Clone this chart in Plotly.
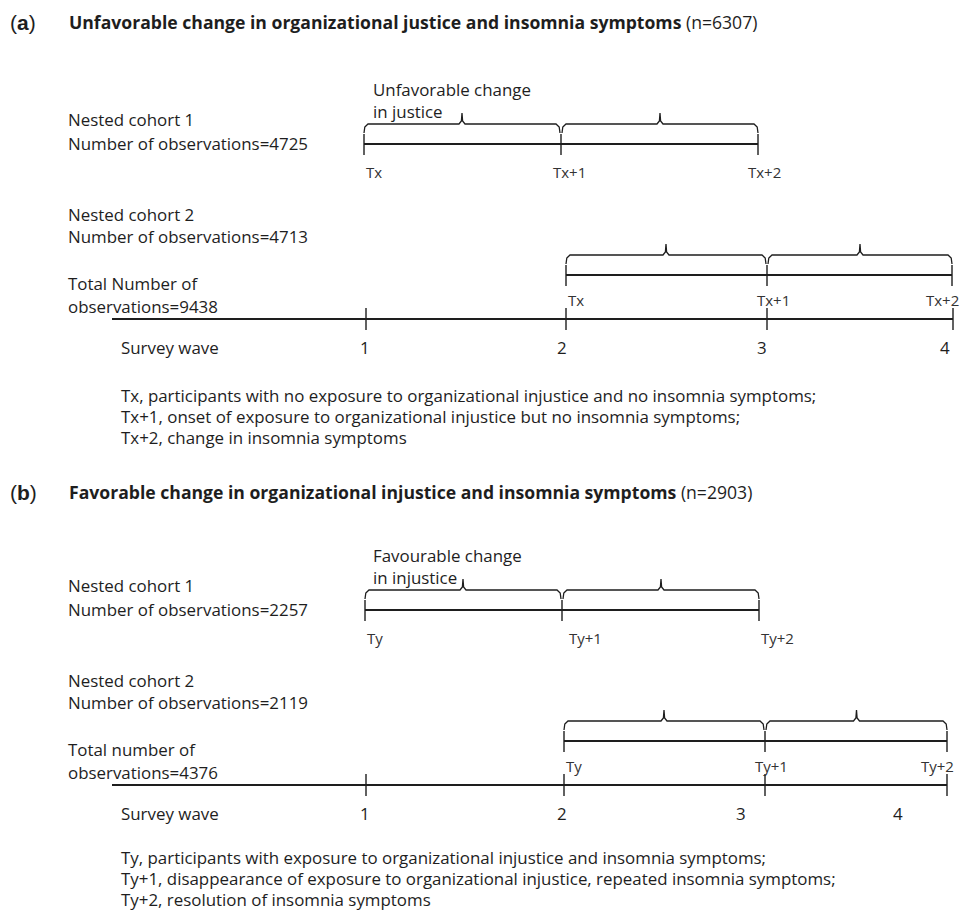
import plotly.graph_objects as go

# ---------------- data ----------------
panel_letters = ["a", "b"]
panel_titles = [
    "Unfavorable change in organizational justice and insomnia symptoms",
    "Favorable change in organizational injustice and insomnia symptoms",
]
panel_n = [6307, 2903]
cohort1_obs = [4725, 2257]
cohort2_obs = [4713, 2119]
total_obs = [9438, 4376]
total_label = ["Total Number of", "Total number of"]
waves = ["1", "2", "3", "4"]
cohort_start_wave = [1, 2]          # nested cohort 1 starts at wave 1, cohort 2 at wave 2
time_labels = [["Tx", "Tx+1", "Tx+2"], ["Ty", "Ty+1", "Ty+2"]]
change_labels = [["Unfavorable change", "in justice"], ["Favourable change", "in injustice"]]
footnotes = [
    ["Tx, participants with no exposure to organizational injustice and no insomnia symptoms;",
     "Tx+1, onset of exposure to organizational injustice but no insomnia symptoms;",
     "Tx+2, change in insomnia symptoms"],
    ["Ty, participants with exposure to organizational injustice and insomnia symptoms;",
     "Ty+1, disappearance of exposure to organizational injustice, repeated insomnia symptoms;",
     "Ty+2, resolution of insomnia symptoms"],
]

# ---------------- layout constants (pixel geometry of the schematic) ----------------
W, H = 963, 914
FONT = "Open Sans"
INK = "#1e1e1e"
FS = 16.9
wave_x = [[366, 566, 767, 953], [366, 564, 765, 947]]          # tick positions on survey-wave line
cohort_x = [[[364, 561, 758], [566, 767, 952]],
            [[365, 562, 759], [564, 765, 947]]]
wave_label_x = [[365, 562, 762, 945], [365, 562, 741, 898]]
panel_dy = [0, 466]
foot_y = [[395, 416, 437], [857, 878, 899]]
LEFT = 66

fig = go.Figure()
ann = []


def line(xs, ys, w=1.8):
    fig.add_trace(go.Scatter(x=xs, y=ys, mode="lines", line=dict(color=INK, width=w),
                             hoverinfo="skip", showlegend=False))


def text(x, y, s, size=FS, xanchor="left", color=INK, family=FONT):
    ann.append(dict(x=x, y=y, xref="x", yref="y", text=s, showarrow=False,
                    xanchor=xanchor, yanchor="middle",
                    font=dict(family=family, size=size, color=color)))


def brace(x0, x1, y):
    xm = (x0 + x1) / 2
    xs = [x0, x0 + 0.8, x0 + 4, xm - 3, xm - 0.6, xm, xm + 0.6, xm + 3, x1 - 4, x1 - 0.8, x1]
    ys = [y + 9, y + 3, y, y, y - 3, y - 11, y - 3, y, y, y + 3, y + 9]
    line(xs, ys, 1.3)


def cohort(xs, y, labels, label_y, anchors):
    line([xs[0], xs[-1]], [y, y], 1.9)
    for xt in xs:
        line([xt, xt], [y - 10, y + 11], 1.4)
    for i in range(len(xs) - 1):
        brace(xs[i] + (1 if i else 0), xs[i + 1] - (1 if i < len(xs) - 2 else 0), y - 20)
    for xt, lab, (dx, xa) in zip(xs, labels, anchors):
        text(xt + dx, label_y, lab, size=15, xanchor=xa, color="#333333")


for p in range(2):
    dy = panel_dy[p]
    ty = 22 + dy + 4 * p
    # title
    text(8, ty, "(<b>%s</b>)" % panel_letters[p], size=21, family="Liberation Sans")
    text(LEFT + 1, ty, "<b>%s</b> (n=%d)" % (panel_titles[p], panel_n[p]), size=17.6)

    # change annotation above first brace
    text(371, 89 + dy, change_labels[p][0])
    text(371, 111 + dy, change_labels[p][1])

    # left labels
    text(LEFT, 119 + dy, "Nested cohort 1")
    text(LEFT, 143 + dy, "Number of observations=%d" % cohort1_obs[p])
    text(LEFT, 214 + dy, "Nested cohort 2")
    text(LEFT, 236 + dy, "Number of observations=%d" % cohort2_obs[p])
    text(LEFT, 283 + dy, total_label[p])
    text(LEFT, 306 + dy, "observations=%d" % total_obs[p])

    # nested cohorts
    if p == 0:
        anch1 = [(0, "left"), (8, "center"), (6, "center")]
    else:
        anch1 = [(0, "left"), (5, "left"), (0, "left")]
    anch2 = [(0, "left"), (6, "center"), (9, "right")]
    cohort(cohort_x[p][0], 144 + dy, time_labels[p], 172 + dy, anch1)
    cohort(cohort_x[p][1], 275 + dy, time_labels[p], 300 + dy, anch2)

    # survey wave line
    line([112, wave_x[p][-1]], [319 + dy, 319 + dy], 2.0)
    for xt in wave_x[p]:
        line([xt, xt], [308 + dy, 330 + dy], 1.4)
    text(119, 347 + dy, "Survey wave")
    for xl, lab in zip(wave_label_x[p], waves):
        text(xl, 347 + dy, lab, xanchor="center")

    # footnotes
    for fy, s in zip(foot_y[p], footnotes[p]):
        text(119, fy, s)

fig.update_layout(
    width=W, height=H, margin=dict(l=0, r=0, t=0, b=0),
    paper_bgcolor="white", plot_bgcolor="white",
    xaxis=dict(range=[0, W], visible=False, fixedrange=True),
    yaxis=dict(range=[H, 0], visible=False, fixedrange=True),
    annotations=ann, showlegend=False,
)
fig.write_html("out.html", config={"displayModeBar": False},
               post_script="document.body.style.margin='0';document.body.style.overflow='hidden';")
